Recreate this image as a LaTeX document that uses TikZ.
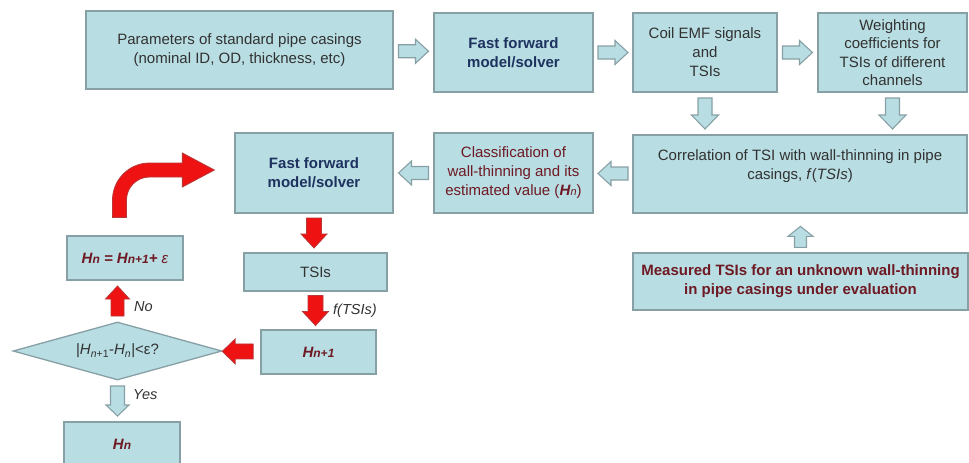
\documentclass[tikz,border=0pt]{standalone}
\usepackage{fontspec}
\setmainfont{Liberation Sans}
\usetikzlibrary{calc,shapes.geometric}
\definecolor{boxfill}{RGB}{184,221,226}
\definecolor{boxline}{RGB}{135,160,165}
\definecolor{navy}{RGB}{30,50,95}
\definecolor{dred}{RGB}{110,25,35}
\definecolor{txt}{RGB}{50,50,50}
\definecolor{arrred}{RGB}{238,18,18}
\definecolor{arrredline}{RGB}{185,55,55}
\tikzset{
  pics/barrow/.style args={#1/#2/#3/#4}{code={%
    \path[pic actions] (-#1/2,-#2) -- (#1/2-#4,-#2) -- (#1/2-#4,-#3) -- (#1/2,0)
      -- (#1/2-#4,#3) -- (#1/2-#4,#2) -- (-#1/2,#2) -- cycle;}},
  box/.style={draw=boxline, fill=boxfill, line width=1.3pt, inner sep=1pt,
    align=center, text=txt, font=\fontsize{15}{19}\selectfont},
  navytext/.style={text=navy, font=\fontsize{15}{19}\selectfont\bfseries},
  redtext/.style={text=dred},
  ltarrow/.style={draw=boxline, fill=boxfill, line width=1.1pt},
  rdarrow/.style={draw=arrredline, fill=arrred, line width=0.8pt},
  lbl/.style={text=txt, font=\fontsize{14.5}{16}\selectfont\itshape, inner sep=0pt}
}
\begin{document}
\begin{tikzpicture}[x=1pt,y=-1pt]
\useasboundingbox (0,0) rectangle (969,463);
\clip (0,0) rectangle (969,463);
% top row
\node[box, minimum width=307pt, minimum height=78pt] (p1) at (239.5,50)
  {Parameters of standard pipe casings\\(nominal ID, OD, thickness, etc)};
\node[box, navytext, minimum width=159pt, minimum height=79pt] (ff1) at (513.5,52.5)
  {Fast forward\\model/solver};
\node[box, minimum width=144pt, minimum height=79pt] (coil) at (705,52.5)
  {Coil EMF signals\\and\\TSIs};
\node[box, minimum width=149pt, minimum height=79pt, font=\fontsize{15}{18.3}\selectfont] (wt) at (892.5,52.5)
  {Weighting\\coefficients for\\TSIs of different\\channels};
% second row
\node[box, redtext, minimum width=159pt, minimum height=80pt] (class) at (513.5,173)
  {Classification of\\wall-thinning and its\\estimated value (\textbf{\textit{H}}{\itshape\fontsize{11}{11}\selectfont n})};
\node[box, minimum width=334pt, minimum height=78pt] (corr) at (800,174)
  {Correlation of TSI with wall-thinning in pipe\\casings, \textit{f}(\textit{TSIs})\\\mbox{}};
\node[box, redtext, minimum width=335pt, minimum height=57pt, font=\fontsize{15}{19}\selectfont\bfseries] (meas) at (800.5,281.5)
  {Measured TSIs for an unknown wall-thinning\\in pipe casings under evaluation};
\node[box, navytext, minimum width=158pt, minimum height=80pt] (ff2) at (314,173)
  {Fast forward\\model/solver};
% loop
\node[box, minimum width=143pt, minimum height=38pt] (tsis) at (315.5,272) {TSIs};
\node[box, redtext, minimum width=115pt, minimum height=44pt, font=\fontsize{15}{19}\selectfont\bfseries\itshape] (hn1) at (318.5,352)
  {H{\fontsize{12}{12}\selectfont n+1}};
\node[box, redtext, minimum width=116pt, minimum height=44pt, font=\fontsize{15}{19}\selectfont\bfseries\itshape] (hn2) at (125,258)
  {H{\fontsize{12}{12}\selectfont n} = H{\fontsize{12}{12}\selectfont n+1}+ {\mdseries ε}};
\node[box, diamond, aspect=3.6, inner sep=0pt, minimum width=209pt, minimum height=58pt] (dia) at (117.5,351)
  {|\textit{H}\textsubscript{\textit{n}+1}-\textit{H}\textsubscript{\textit{n}}|<ε?};
\node[box, redtext, minimum width=116pt, minimum height=44pt, font=\fontsize{15}{19}\selectfont\bfseries\itshape] (hn) at (122,444)
  {H{\fontsize{12}{12}\selectfont n}};
% light block arrows
\pic[ltarrow] at ($(p1.east)!0.5!(ff1.west)$) {barrow=30/6.5/12/13};
\pic[ltarrow] at ($(ff1.east)!0.5!(coil.west)$) {barrow=30/6.5/12/13};
\pic[ltarrow] at ($(coil.east)!0.5!(wt.west)$) {barrow=30/6.5/12/13};
\pic[ltarrow, rotate=-90] at ($(coil.south)!0.5!(coil.south |- corr.north)$) {barrow=31/7/13.5/14};
\pic[ltarrow, rotate=-90] at ($(wt.south)!0.5!(wt.south |- corr.north)$) {barrow=31/7/13.5/14};
\pic[ltarrow, rotate=180] at ($(corr.west)!0.5!(class.east)$) {barrow=30/6.5/12/13};
\pic[ltarrow, rotate=180] at ($(class.west)!0.5!(ff2.east)$) {barrow=30/6.5/12/13};
\pic[ltarrow, rotate=90] at ($(meas.north)!0.4!(meas.north |- corr.south)$) {barrow=21/6/12.5/10};
\pic[ltarrow, rotate=-90] at ($(dia.south)!0.5!(dia.south |- hn.north)$) {barrow=30/7/11.5/11};
% red block arrows
\pic[rdarrow, rotate=-90] at ($(ff2.south)!0.5!(ff2.south |- tsis.north)$) {barrow=30/7.5/13/14};
\pic[rdarrow, rotate=-90] at ($(tsis.south)!0.5!(tsis.south |- hn1.north)$) {barrow=30/7.5/13/14};
\pic[rdarrow, rotate=180] at ($(hn1.west)!0.6!(dia.east)$) {barrow=31/7.5/12.5/13};
\pic[rdarrow, rotate=90] at ($(dia.north)!0.5!(dia.north |- hn2.south)$) {barrow=30/6.5/12/13};
% bent red arrow
\coordinate (bs) at ($(hn2.north)+(-5.5,-18)$);
\coordinate (be) at ($(ff2.west)+(-20,-3)$);
\path[rdarrow] let \p1=(bs), \p2=(be) in
  (\x1-7pt,\y1) -- (\x1-7pt,\y2-30pt)
  .. controls (\x1-7pt,\y2-9.6pt) and (\x1+9.6pt,\y2+7pt) .. (\x1+30pt,\y2+7pt)
  -- (\x2-32pt,\y2+7pt) -- (\x2-32pt,\y2+17pt) -- (\x2,\y2) -- (\x2-32pt,\y2-17pt)
  -- (\x2-32pt,\y2-7pt) -- (\x1+30pt,\y2-7pt)
  .. controls (\x1+17.3pt,\y2-7pt) and (\x1+7pt,\y2-17.3pt) .. (\x1+7pt,\y2-30pt)
  -- (\x1+7pt,\y1) -- cycle;
% labels
\node[lbl, anchor=west] (lno) at (134,307) {No};
\node[lbl, anchor=west] (lyes) at (133,395) {Yes};
\node[lbl, anchor=west] (lf) at (333,311) {\textit{f}(\textit{TSIs})};
\end{tikzpicture}
\end{document}
